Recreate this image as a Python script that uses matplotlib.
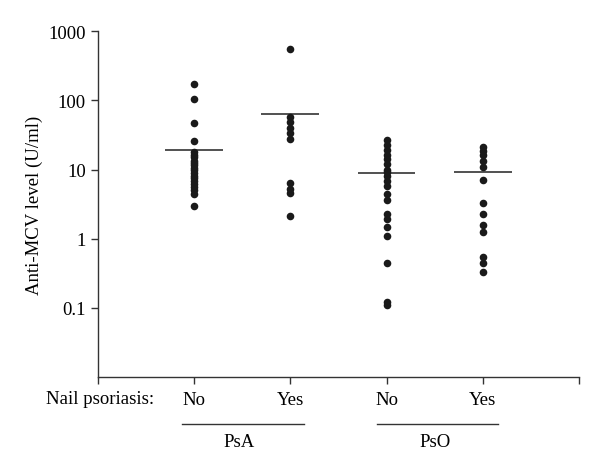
import numpy as np
import matplotlib
matplotlib.use("Agg")
import matplotlib.pyplot as plt
from matplotlib.ticker import FixedLocator, NullLocator

# values (U/ml)
groups = ["PsA No", "PsA Yes", "PsO No", "PsO Yes"]
tick_labels = ["No", "Yes", "No", "Yes"]
psa_no = [175, 104, 47, 25.5, 18, 16.5, 15, 13.5, 12.5, 11.5, 10.5, 9.8, 9, 8.2,
          7.5, 6.8, 6.2, 5.6, 5, 4.5, 3.0]
psa_yes = [550, 57, 48, 40, 33.6, 28, 6.3, 5.3, 4.6, 2.1]
pso_no = [27, 23, 19.5, 16.5, 14, 12, 10, 9.2, 8, 6.8, 5.8, 4.4, 3.6, 2.3, 1.9,
          1.5, 1.1, 0.44, 0.12, 0.11]
pso_yes = [21, 18.5, 16, 13.3, 11, 7.0, 3.3, 2.25, 1.6, 1.27, 0.55, 0.44, 0.33]
group_means = [19, 64, 8.8, 9.1]

plt.rcParams['font.family'] = ['Liberation Serif', 'DejaVu Serif']

fig = plt.figure(figsize=(6, 4.6), dpi=100)
ax = fig.add_axes([0.163, 0.178, 0.802, 0.752])

data = [psa_no, psa_yes, pso_no, pso_yes]
for i, vals in enumerate(data):
    x = np.full(len(vals), i + 1)
    ax.scatter(x, vals, s=30, color='#1a1a1a', zorder=3, linewidths=0)
    ax.hlines(group_means[i], i + 1 - 0.3, i + 1 + 0.3, color='#333333', lw=1.2)

ax.set_yscale('log')
ax.set_ylim(0.01, 1000)
ax.set_xlim(0, 5)
ax.yaxis.set_major_locator(FixedLocator([0.1, 1, 10, 100, 1000]))
ax.yaxis.set_minor_locator(NullLocator())
ax.set_yticklabels(['0.1', '1', '10', '100', '1000'])
ax.set_xticks([0, 1, 2, 3, 4, 5])
ax.set_xticklabels([''] + tick_labels + [''])
ax.tick_params(axis='both', direction='out', length=5, width=1, color='#333333',
               labelsize=13.5)
ax.tick_params(axis='x', pad=5)

for side in ['top', 'right']:
    ax.spines[side].set_visible(False)
for side in ['left', 'bottom']:
    ax.spines[side].set_color('#333333')
    ax.spines[side].set_linewidth(1)

ax.set_ylabel('Anti-MCV level (U/ml)', fontsize=13.5, labelpad=4)

# category annotations below the axis
trans = ax.get_xaxis_transform()
ax.text(0.59, -0.062, 'Nail psoriasis:', transform=trans, ha='right', va='center',
        fontsize=13.5)
ax.plot([0.88, 2.14], [-0.135, -0.135], transform=trans, color='#333333', lw=1,
        clip_on=False)
ax.plot([2.90, 4.16], [-0.135, -0.135], transform=trans, color='#333333', lw=1,
        clip_on=False)
ax.text(1.47, -0.185, 'PsA', transform=trans, ha='center', va='center', fontsize=13.5)
ax.text(3.50, -0.185, 'PsO', transform=trans, ha='center', va='center', fontsize=13.5)

fig.savefig('out.png', dpi=100)
